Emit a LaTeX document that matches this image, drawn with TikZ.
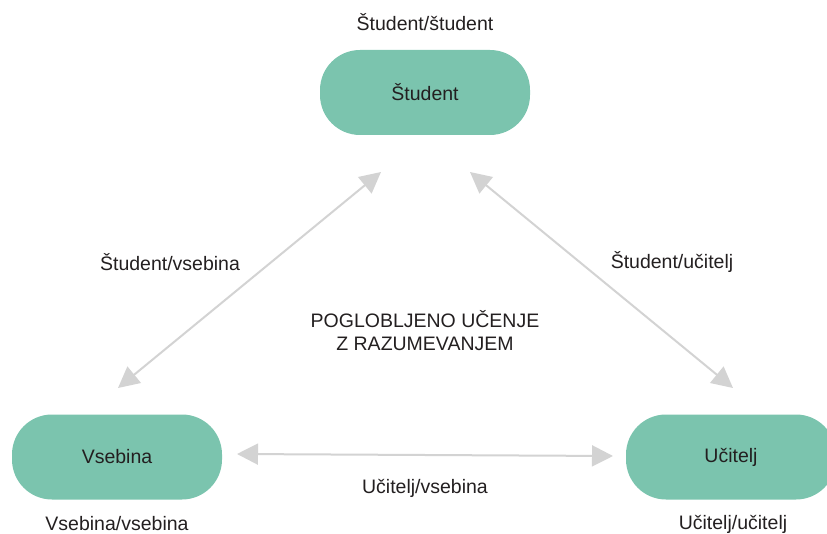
\documentclass[tikz,border=0pt]{standalone}
\usepackage{fontspec}
\setmainfont{Liberation Sans}
\usetikzlibrary{arrows.meta}
\definecolor{boxgreen}{HTML}{7BC4AE}
\definecolor{arrowgray}{HTML}{D3D3D3}
\definecolor{txt}{HTML}{231F20}
\begin{document}
\begin{tikzpicture}[x=1pt,y=-1pt,
  box/.style={fill=boxgreen, draw=none, rounded corners=40pt, minimum width=210pt, minimum height=85pt, inner sep=0pt, text=txt, font=\fontsize{19.5}{23}\selectfont},
  lbl/.style={text=txt, font=\fontsize{19.5}{23}\selectfont, inner sep=0pt, align=center},
  conn/.style={draw=arrowgray, line width=2pt, {Triangle[length=21pt,width=21pt]}-{Triangle[length=21pt,width=21pt]}}]
\useasboundingbox (0,0) rectangle (827,534);
\clip (0,0) rectangle (827,534);
\node[box] (stu) at (425,92.5) {Študent};
\node[box] (vse) at (117,457) {Vsebina};
\node[box] (uci) at (731,457) {Učitelj};
\node[lbl] (lss) at (425,22) {Študent/študent};
\node[lbl] (lsv) at (170,262) {Študent/vsebina};
\node[lbl] (lsu) at (672,262) {Študent/učitelj};
\node[lbl] (mid) at (425,331) {POGLOBLJENO UČENJE\\Z RAZUMEVANJEM};
\node[lbl] (luv) at (425,488) {Učitelj/vsebina};
\node[lbl] (lvv) at (117,524) {Vsebina/vsebina};
\node[lbl] (luu) at (733,524) {Učitelj/učitelj};
\coordinate (a1) at (381,172);
\coordinate (a2) at (118,388);
\coordinate (b1) at (470,172);
\coordinate (b2) at (733,388);
\coordinate (c1) at (237,454);
\coordinate (c2) at (613,456);
\draw[conn] (a1) -- (a2);
\draw[conn] (b1) -- (b2);
\draw[conn] (c1) -- (c2);
\end{tikzpicture}
\end{document}
